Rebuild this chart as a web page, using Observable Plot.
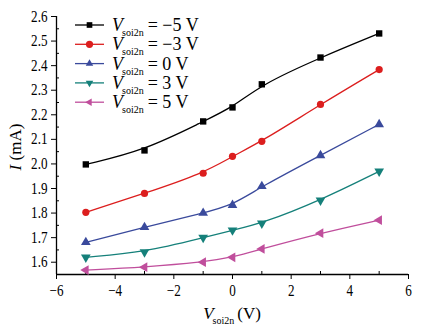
<!DOCTYPE html>
<html><head><meta charset="utf-8">
<script src="https://cdn.jsdelivr.net/npm/d3@7"></script>
<script src="https://cdn.jsdelivr.net/npm/@observablehq/plot@0.6"></script>
<style>
body{margin:0;background:#fff}
#chart{position:relative;width:423px;height:332px}
svg{font-family:"Liberation Serif","Times New Roman",serif}
</style>
</head><body><div id="chart"></div><script>
// Gate bias (x) values
const vg = [-5, -3, -1, 0, 1, 3, 5];
// Legend labels (Vsoi2n values)
const seriesLabels = ["= \u22125 V", "= \u22123 V", "= 0 V", "= 3 V", "= 5 V"];
// Current I (mA) per series
const iM5 = [1.998, 2.055, 2.173, 2.230, 2.324, 2.433, 2.531];
const iM3 = [1.803, 1.880, 1.962, 2.031, 2.092, 2.242, 2.384];
const i0  = [1.681, 1.742, 1.800, 1.832, 1.909, 2.035, 2.161];
const iP3 = [1.620, 1.641, 1.700, 1.730, 1.758, 1.852, 1.970];
const iP5 = [1.568, 1.580, 1.600, 1.620, 1.654, 1.718, 1.771];
// Tick values
const xMajor = [-6, -4, -2, 0, 2, 4, 6];
const xMinor = [-5, -3, -1, 1, 3, 5];
const yMajor = [1.6, 1.7, 1.8, 1.9, 2.0, 2.1, 2.2, 2.3, 2.4, 2.5, 2.6];
const yMinor = [1.55, 1.65, 1.75, 1.85, 1.95, 2.05, 2.15, 2.25, 2.35, 2.45, 2.55];
// Styling
const colors = ["#000000", "#dc1e1e", "#3a4a9c", "#15807a", "#c04e9c"];
const symbolNames = ["square", "circle", "triangle", "triangle", "triangle"];
const rotations = [0, 0, 0, 180, -90];

const allSeries = [iM5, iM3, i0, iP3, iP5];
const data = [];
allSeries.forEach((arr, k) => vg.forEach((x, i) => data.push({series: k, x, y: arr[i]})));

const minus = d => d < 0 ? "\u2212" + Math.abs(d) : String(d);

const plot = Plot.plot({
  width: 423, height: 332,
  marginLeft: 56, marginRight: 15, marginTop: 16, marginBottom: 58,
  style: {fontFamily: "Liberation Serif", fontSize: "15px", color: "#000", background: "#fff"},
  x: {domain: [-6, 6]},
  y: {domain: [1.55, 2.6]},
  color: {type: "ordinal", domain: [0,1,2,3,4], range: colors},
  symbol: {domain: [0,1,2,3,4], range: symbolNames},
  marks: [
    Plot.axisX({ticks: xMajor, tickSize: 5, tickPadding: 5, tickFormat: minus, label: null, fontSize: 16}),
    Plot.axisX({ticks: xMinor, tickSize: -3, text: null, label: null}),
    Plot.axisY({ticks: yMajor, tickSize: 5, tickPadding: 4, tickFormat: d3.format(".1f"), label: null, fontSize: 16}),
    Plot.axisY({ticks: yMinor, tickSize: -3, text: null, label: null}),
    Plot.ruleY([1.55], {stroke: "#000", strokeWidth: 1.3}),
    Plot.ruleX([-6], {stroke: "#000", strokeWidth: 1.3}),
    Plot.line(data, {x: "x", y: "y", z: "series", stroke: "series", strokeWidth: 1.3, curve: "basis"}),
    Plot.dot(data, {x: "x", y: "y", symbol: "series", fill: "series", stroke: null, r: 3.6, rotate: d => rotations[d.series]})
  ]
});
document.getElementById("chart").appendChild(plot);

const svg = d3.select(plot);
// compress tick labels horizontally like the reference
svg.selectAll('g[aria-label="x-axis tick label"] text, g[aria-label="y-axis tick label"] text')
  .attr("transform", function() { return (this.getAttribute("transform") || "") + " scale(0.82,1)"; });

// Legend
const lg = svg.append("g").attr("font-family", "Liberation Serif, serif").attr("text-anchor", "start");
const symMap = {square: d3.symbolSquare2, circle: d3.symbolCircle, triangle: d3.symbolTriangle2};
seriesLabels.forEach((lab, k) => {
  const y = 25 + 19.3 * k;
  lg.append("line").attr("x1", 75).attr("x2", 104).attr("y1", y).attr("y2", y)
    .attr("stroke", colors[k]).attr("stroke-width", 1.3);
  lg.append("path").attr("d", d3.symbol(symMap[symbolNames[k]], Math.PI * 3.6 * 3.6)())
    .attr("transform", `translate(89.5,${y}) rotate(${rotations[k]})`)
    .attr("fill", colors[k]);
  const t = lg.append("text").attr("x", 112).attr("y", y + 6).attr("font-size", 18)
    .attr("fill", "#000").attr("text-anchor", "start");
  t.append("tspan").attr("font-style", "italic").text("V");
  t.append("tspan").attr("font-size", 10).attr("dy", 5).attr("dx", -1).text("soi2n");
  t.append("tspan").attr("dy", -5).attr("dx", 4).text(lab);
});

// X title
const xt = svg.append("text").attr("x", 232).attr("y", 319).attr("text-anchor", "middle")
  .attr("font-size", 17).attr("fill", "#000");
xt.append("tspan").attr("font-style", "italic").text("V");
xt.append("tspan").attr("font-size", 10).attr("dy", 5).attr("dx", -1).text("soi2n");
xt.append("tspan").attr("dy", -5).attr("dx", 3).text("(V)");

// Y title
const yt = svg.append("text").attr("transform", "translate(21,147) rotate(-90)")
  .attr("text-anchor", "middle").attr("font-size", 17).attr("fill", "#000");
yt.append("tspan").attr("font-style", "italic").text("I");
yt.append("tspan").text(" (mA)");
</script></body></html>
